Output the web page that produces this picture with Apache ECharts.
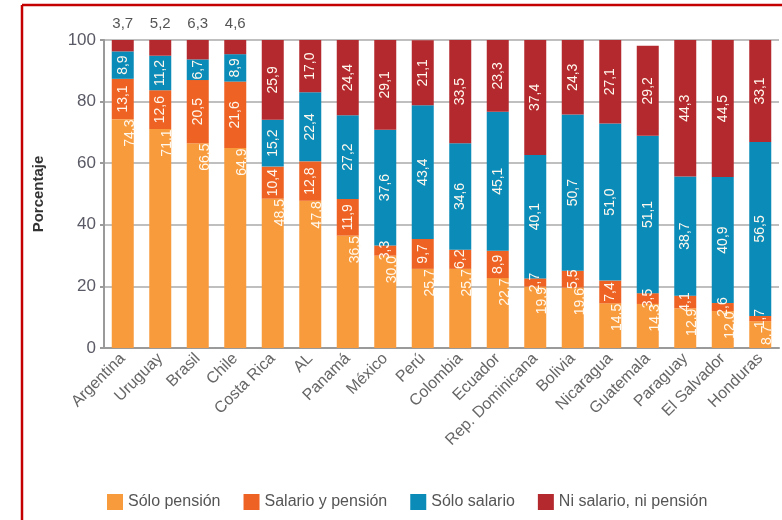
<!DOCTYPE html>
<html>
<head>
<meta charset="utf-8">
<script src="https://cdn.jsdelivr.net/npm/echarts@6/dist/echarts.min.js"></script>
<style>html,body{margin:0;padding:0;background:#fff}#c{width:782px;height:520px}</style>
</head>
<body>
<div id="c"></div>
<script>
const categories = ['Argentina','Uruguay','Brasil','Chile','Costa Rica','AL','Panamá','México','Perú','Colombia','Ecuador','Rep. Dominicana','Bolivia','Nicaragua','Guatemala','Paraguay','El Salvador','Honduras'];
const soloPension = [74.3,71.1,66.5,64.9,48.5,47.8,36.5,30.0,25.7,25.7,22.7,19.9,19.6,14.5,14.3,12.9,12.0,8.7];
const salarioPension = [13.1,12.6,20.5,21.6,10.4,12.8,11.9,3.3,9.7,6.2,8.9,2.7,5.5,7.4,3.5,4.1,2.6,1.7];
const soloSalario = [8.9,11.2,6.7,8.9,15.2,22.4,27.2,37.6,43.4,34.6,45.1,40.1,50.7,51.0,51.1,38.7,40.9,56.5];
const niNi = [3.7,5.2,6.3,4.6,25.9,17.0,24.4,29.1,21.1,33.5,23.3,37.4,24.3,27.1,29.2,44.3,44.5,33.1];
const seriesNames = ['Sólo pensión','Salario y pensión','Sólo salario','Ni salario, ni pensión'];
const yTicks = [0,20,40,60,80,100];

const colors = ['#F89B3C','#EE6224','#0B8CB8','#B4292E'];
const fmt = v => v.toFixed(1).replace('.', ',');
const FONT = "'Liberation Sans', Arial, sans-serif";
const insideLabel = {
  show: true, rotate: 90, color: '#fff8ee', fontSize: 14, fontFamily: FONT,
  formatter: p => fmt(typeof p.value === 'number' ? p.value : p.value)
};
function mk(name, data, idx, extra) {
  return Object.assign({
    name, type: 'bar', stack: 'total', barWidth: 22,
    itemStyle: { color: colors[idx] },
    label: Object.assign({}, insideLabel, { position: 'inside' }),
    emphasis: { disabled: true },
    data
  }, extra || {});
}
const niData = niNi.map((v, i) => i < 4 ? {
  value: v,
  label: { position: 'top', rotate: 0, distance: 9, color: '#555', fontSize: 15 }
} : v);

const chart = echarts.init(document.getElementById('c'), null, { renderer: 'canvas' });
chart.setOption({
  animation: false,
  color: colors,
  grid: { left: 104, right: 3, top: 40, bottom: 172, containLabel: false },
  legend: {
    left: 102, top: 489, itemWidth: 16, itemHeight: 16, itemGap: 23, icon: 'rect',
    textStyle: { color: '#555', fontSize: 16, fontFamily: FONT },
    data: seriesNames
  },
  xAxis: {
    type: 'category', data: categories,
    axisLine: { lineStyle: { color: '#9a9a9a', width: 2 } },
    axisTick: { show: false },
    axisLabel: { rotate: 45, margin: 8, color: '#666', fontSize: 16, fontFamily: FONT, interval: 0 }
  },
  yAxis: {
    type: 'value', min: 0, max: 100, interval: 20,
    name: 'Porcentaje', nameLocation: 'middle', nameGap: 58,
    nameTextStyle: { fontWeight: 'bold', color: '#333', fontSize: 15, fontFamily: "'Liberation Sans Narrow', " + FONT },
    axisLine: { show: true, lineStyle: { color: '#9a9a9a', width: 2 } },
    axisTick: { show: true, length: 4, lineStyle: { color: '#9a9a9a', width: 2 } },
    axisLabel: { color: '#5a5a66', fontSize: 17, fontFamily: FONT, margin: 8,
      formatter: v => yTicks.includes(v) ? String(v) : '' },
    splitLine: { lineStyle: { color: '#aaaaaa', width: 1.5 } }
  },
  graphic: [
    { type: 'line', shape: { x1: 22, y1: 5, x2: 782, y2: 5 }, style: { stroke: '#C40000', lineWidth: 2.5 } },
    { type: 'line', shape: { x1: 22, y1: 5, x2: 22, y2: 520 }, style: { stroke: '#C40000', lineWidth: 2.5 } }
  ],
  series: [
    mk(seriesNames[0], soloPension, 0, { label: Object.assign({}, insideLabel, { position: 'insideTop', distance: 14 }) }),
    mk(seriesNames[1], salarioPension, 1),
    mk(seriesNames[2], soloSalario, 2),
    mk(seriesNames[3], niData, 3)
  ]
});
</script>
</body>
</html>
